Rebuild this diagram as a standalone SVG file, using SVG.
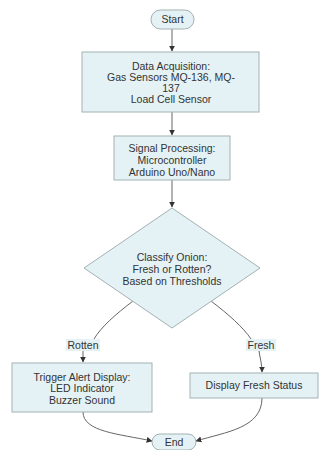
<svg xmlns="http://www.w3.org/2000/svg" width="323" height="450" viewBox="0 0 323 450">
<style>
.n{fill:#e5f2f5;stroke:#a3b1b4;stroke-width:1}
.t{font-family:"Liberation Sans",Arial,sans-serif;font-size:10.5px;fill:#333;text-anchor:middle}
.e{fill:none;stroke:#666;stroke-width:1}
.lb{fill:#e5f2f5;stroke:none}
</style>
<defs>
<marker id="a" viewBox="0 0 10 10" refX="9" refY="5" markerWidth="6" markerHeight="6" orient="auto">
<path d="M0,0 L10,5 L0,10 z" fill="#333"/>
</marker>
</defs>
<rect width="323" height="450" fill="#fff"/>
<g id="edges">
<path class="e" d="M172,29 L172,51" marker-end="url(#a)"/>
<path class="e" d="M172,112 L172,135" marker-end="url(#a)"/>
<path class="e" d="M172,180 L172,207" marker-end="url(#a)"/>
<path class="e" d="M133,301 C116,314 101,327 94,339"/>
<path class="e" d="M83,351 L83,362" marker-end="url(#a)"/>
<path class="e" d="M211,301 C228,314 243,327 251,339"/>
<path class="e" d="M259,351 C260,358 262,364 262,372" marker-end="url(#a)"/>
<path class="e" d="M83,412 C83,432 120,434 152,441" marker-end="url(#a)"/>
<path class="e" d="M262,398 C262,428 226,432 196,441" marker-end="url(#a)"/>
<g id="lbl-rotten">
<rect class="lb" x="66" y="339" width="34" height="12"/>
<text class="t" x="83" y="349">Rotten</text>
</g>
<g id="lbl-fresh">
<rect class="lb" x="246" y="339" width="30" height="12"/>
<text class="t" x="261" y="349">Fresh</text>
</g>
</g>
<g id="start">
<rect class="n" x="151" y="10" width="43" height="19" rx="9.5"/>
<text class="t" x="172.5" y="23">Start</text>
</g>
<g id="acq">
<rect class="n" x="82" y="52" width="177" height="60"/>
<text class="t" x="171" y="70">Data Acquisition:</text>
<text class="t" x="171" y="81">Gas Sensors MQ-136, MQ-</text>
<text class="t" x="171" y="92">137</text>
<text class="t" x="171" y="103">Load Cell Sensor</text>
</g>
<g id="proc">
<rect class="n" x="114" y="136" width="116" height="44"/>
<text class="t" x="172" y="152">Signal Processing:</text>
<text class="t" x="172" y="164">Microcontroller</text>
<text class="t" x="172" y="176">Arduino Uno/Nano</text>
</g>
<g id="classify">
<polygon class="n" points="172,208 260,268 172,328 84,268"/>
<text class="t" x="172" y="261">Classify Onion:</text>
<text class="t" x="172" y="273">Fresh or Rotten?</text>
<text class="t" x="172" y="285">Based on Thresholds</text>
</g>
<g id="alert">
<rect class="n" x="12" y="363" width="140" height="49"/>
<text class="t" x="82" y="381">Trigger Alert Display:</text>
<text class="t" x="82" y="392">LED Indicator</text>
<text class="t" x="82" y="404">Buzzer Sound</text>
</g>
<g id="fresh">
<rect class="n" x="190" y="373" width="128" height="25"/>
<text class="t" x="254" y="389">Display Fresh Status</text>
</g>
<g id="end">
<rect class="n" x="152" y="434" width="44" height="16" rx="8"/>
<text class="t" x="174" y="446">End</text>
</g>
</svg>
